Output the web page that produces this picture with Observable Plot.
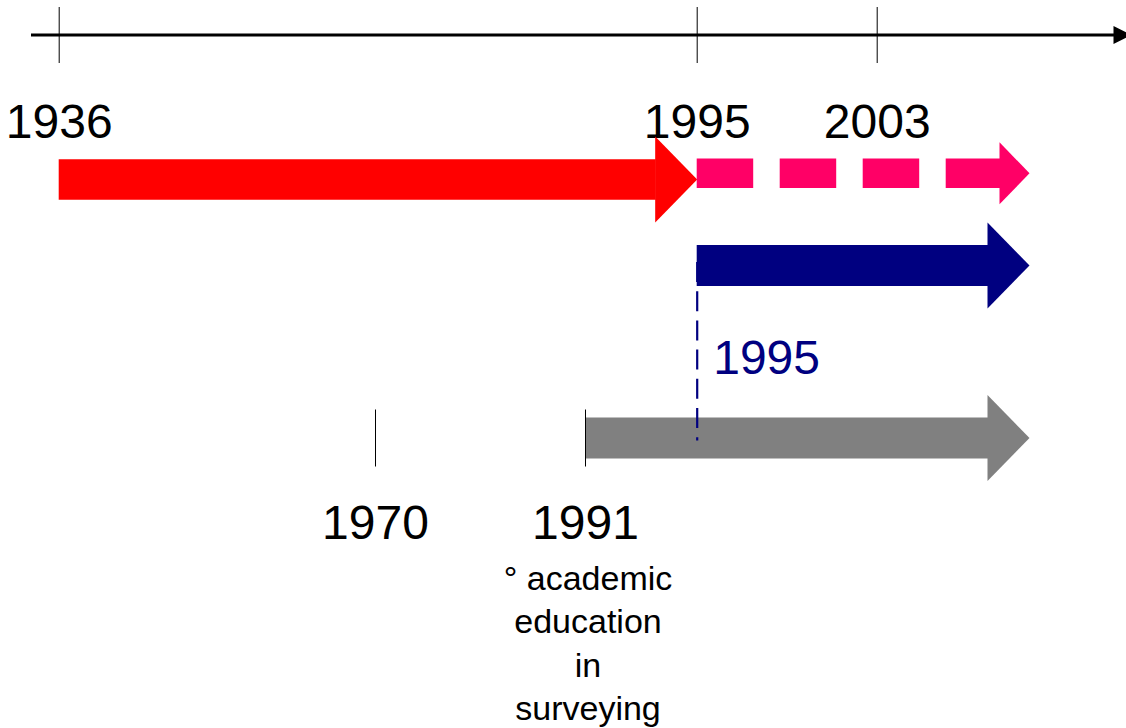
<!DOCTYPE html>
<html>
<head>
<meta charset="utf-8">
<script src="https://cdn.jsdelivr.net/npm/d3@7"></script>
<script src="https://cdn.jsdelivr.net/npm/@observablehq/plot@0.6"></script>
<style>
  html, body { margin: 0; padding: 0; background: #fff; }
  #chart svg { display: block; }
</style>
</head>
<body>
<div id="chart"></div>
<script>
// ---- data ----
const axisTickYears = [1936, 1995, 2003];
const topLabels = ["1936", "1995", "2003"];
const lowerTickYears = [1970, 1991];
const lowerLabels = ["1970", "1991"];
const arrowStart = [1936, 1995, 1995, 1991];
const arrowEnd = [1995, 2010, 2010, 2010];
const arrowLane = [1, 1, 2, 3];          // 0 = time axis, 1..3 = arrow rows
const blueLabel = ["1995"];
const blueLabelYear = [1995];
const noteText = ["° academic\neducation\nin\nsurveying"];
const noteYear = [1991];
const axisSpan = [1933, 2014];

// ---- helpers ----
const head = (len, half) => ({
  draw(ctx) { ctx.moveTo(-len, -half); ctx.lineTo(0, 0); ctx.lineTo(-len, half); ctx.closePath(); }
});
const vtick = (half) => ({
  draw(ctx) { ctx.moveTo(0, -half); ctx.lineTo(0, half); }
});

function arrow(i, {color, width, headLen, headHalf, dash, dy = 0}) {
  const d = [i];
  return [
    Plot.ruleY(d, {
      x1: j => arrowStart[j], x2: j => arrowEnd[j], y: j => arrowLane[j],
      stroke: color, strokeWidth: width, insetRight: headLen - 1, dy,
      strokeDasharray: dash, strokeLinecap: "butt"
    }),
    Plot.dot(d, {
      x: j => arrowEnd[j], y: j => arrowLane[j], dy,
      symbol: head(headLen, headHalf), r: 5, fill: color, stroke: "none"
    })
  ];
}

const font = "'Liberation Sans', Arial, Helvetica, sans-serif";

const chart = Plot.plot({
  width: 1126,
  height: 728,
  margin: 0,
  style: { fontFamily: font, background: "#fff", color: "#000" },
  x: { axis: null, type: "linear",
       domain: [1933, 1936, 1970, 1991, 1995, 2003, 2010, 2014],
       range:  [31, 58.7, 375, 585, 696.7, 876.7, 1029, 1131] },
  y: { axis: null, type: "linear",
       domain: [0, 1, 2, 3],
       range: [34.5, 179, 265, 437.5] },
  marks: [
    // time axis
    Plot.ruleY([0], { x1: () => axisSpan[0], x2: () => axisSpan[1], y: () => 0,
      stroke: "#000", strokeWidth: 3.2, insetRight: 14 }),
    Plot.dot([0], { x: () => axisSpan[1], y: () => 0, symbol: head(18, 9), r: 5, fill: "#000", stroke: "none" }),
    Plot.dot(axisTickYears, { x: d => d, y: () => 0, symbol: vtick(28), r: 5, fill: "none", stroke: "#000", strokeWidth: 1 }),
    Plot.text(topLabels, { x: (d, i) => axisTickYears[i], y: () => 0, text: d => d,
      dy: 88, fontSize: 48, fill: "#000" }),

    // arrows
    ...arrow(0, { color: "#FF0000", width: 40.5, headLen: 42, headHalf: 43 }),
    ...arrow(1, { color: "#FF0066", width: 29.5, headLen: 30, headHalf: 31, dash: "56.5,26.5", dy: -6.2 }),
    ...arrow(2, { color: "#000080", width: 41, headLen: 42, headHalf: 43 }),
    ...arrow(3, { color: "#808080", width: 41, headLen: 42, headHalf: 43 }),

    // lower ticks
    Plot.dot(lowerTickYears, { x: d => d, y: () => 3, symbol: vtick(28.5), r: 5, fill: "none", stroke: "#000", strokeWidth: 1 }),
    Plot.text(lowerLabels, { x: (d, i) => lowerTickYears[i], y: () => 3, text: d => d,
      dy: 85.9, fontSize: 48, fill: "#000" }),

    // dashed connector from 1995 (blue) down to the gray row
    Plot.ruleX(blueLabelYear, { x: d => d, y1: () => 2, y2: () => 3,
      stroke: "#000080", strokeWidth: 2.2, strokeDasharray: "20,9.2", insetTop: -3, insetBottom: -3 }),
    Plot.text(blueLabel, { x: (d, i) => blueLabelYear[i], y: () => 2, text: d => d,
      dx: 16, dy: 92.9, textAnchor: "start", fontSize: 48, fill: "#000080" }),

    // note
    Plot.text(noteText, { x: (d, i) => noteYear[i], y: () => 3, text: d => d,
      dx: 2.5, dy: 121.5, lineAnchor: "top", lineHeight: 1.27, fontSize: 34, fill: "#000" })
  ]
});

document.getElementById("chart").append(chart);
</script>
</body>
</html>
